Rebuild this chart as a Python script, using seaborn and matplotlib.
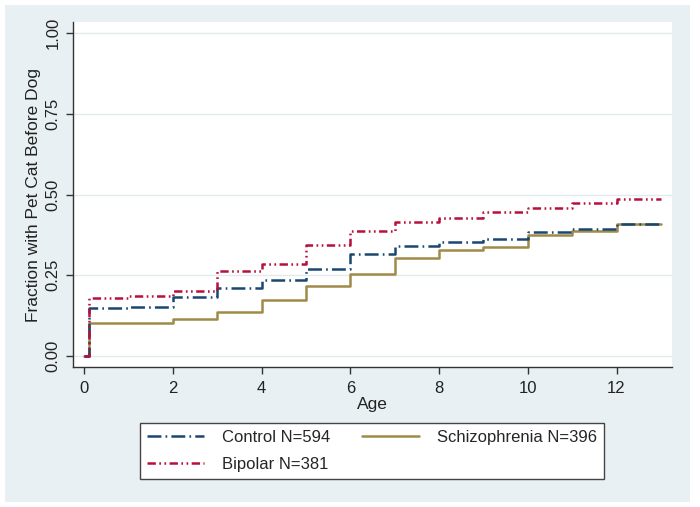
import matplotlib
matplotlib.use("Agg")
import matplotlib.pyplot as plt
import matplotlib.patches as mpatches
import seaborn as sns
import pandas as pd

# ---- data ----
ages = [0, 0.1, 1, 2, 3, 4, 5, 6, 7, 8, 9, 10, 11, 12, 13]
control = [0, 0.150, 0.153, 0.184, 0.210, 0.236, 0.268, 0.315, 0.341, 0.354, 0.362, 0.383, 0.392, 0.410, 0.410]
schizophrenia = [0, 0.101, 0.101, 0.114, 0.137, 0.173, 0.218, 0.253, 0.304, 0.327, 0.337, 0.375, 0.388, 0.410, 0.410]
bipolar = [0, 0.179, 0.186, 0.202, 0.264, 0.284, 0.344, 0.387, 0.416, 0.428, 0.445, 0.459, 0.475, 0.486, 0.486]
labels = ["Control N=594", "Schizophrenia N=396", "Bipolar N=381"]
yticks = [0.00, 0.25, 0.50, 0.75, 1.00]
xticks = [0, 2, 4, 6, 8, 10, 12]

sns.set_theme(style="white")
plt.rcParams["font.family"] = ["Liberation Sans", "DejaVu Sans"]
plt.rcParams["lines.scale_dashes"] = False

df = pd.concat([
    pd.DataFrame({"Age": ages, "Fraction": control, "Group": labels[0]}),
    pd.DataFrame({"Age": ages, "Fraction": schizophrenia, "Group": labels[1]}),
    pd.DataFrame({"Age": ages, "Fraction": bipolar, "Group": labels[2]}),
])

colors = {labels[0]: "#1a476f", labels[1]: "#a08a47", labels[2]: "#b8103a"}
styles = {labels[0]: (0, (10, 3, 1.2, 3)),
          labels[1]: "-",
          labels[2]: (0, (6, 2.5, 1.2, 2.5, 1.2, 2.5))}

fig = plt.figure(figsize=(7.0, 5.07), dpi=100)
fig.patch.set_facecolor("white")
bg = mpatches.Rectangle((5 / 700, 1 - 502 / 507), 685 / 700, 497 / 507,
                        transform=fig.transFigure, facecolor="#e9f0f3",
                        edgecolor="none", zorder=-10)
fig.patches.append(bg)
ax = fig.add_axes([73 / 700, 1 - 367 / 507, 599 / 700, 345 / 507])
ax.set_zorder(1)
ax.set_facecolor("white")

handles = {}
for g in [labels[1], labels[0], labels[2]]:
    sub = df[df["Group"] == g]
    sns.lineplot(data=sub, x="Age", y="Fraction", ax=ax, drawstyle="steps-post",
                 estimator=None, color=colors[g], linestyle=styles[g], lw=1.8,
                 legend=False)
    handles[g] = ax.lines[-1]

ax.set_xlim(-0.25, 13.25)
ax.set_ylim(-0.034, 1.034)
ax.set_xticks(xticks)
ax.set_yticks(yticks)
ax.set_yticklabels([f"{v:.2f}" for v in yticks], rotation=90, va="center")
ax.tick_params(axis="both", which="major", length=5, width=1, color="#333333",
               labelsize=12, labelcolor="#222222", direction="out",
               bottom=True, left=True)
ax.tick_params(axis="x", pad=5)
ax.tick_params(axis="y", pad=4)
ax.yaxis.grid(True, color="#e3eaee", lw=1)
ax.xaxis.grid(False)
ax.set_axisbelow(True)
for s in ["top", "right"]:
    ax.spines[s].set_visible(False)
for s in ["left", "bottom"]:
    ax.spines[s].set_color("#333333")
    ax.spines[s].set_linewidth(1)

ax.set_xlabel("Age", fontsize=12.5, color="#222222", labelpad=1)
ax.set_ylabel("Fraction with Pet Cat Before Dog", fontsize=12.5, color="#222222", labelpad=3)

leg = fig.legend([handles[labels[0]], handles[labels[2]], handles[labels[1]]],
                 [labels[0], labels[2], labels[1]],
                 ncol=2, loc="center", bbox_to_anchor=(372 / 700, 1 - 451 / 507),
                 fontsize=12, frameon=True, fancybox=False, framealpha=1,
                 edgecolor="#444444", handlelength=3.4, handletextpad=1.1,
                 columnspacing=1.9, labelspacing=0.75, borderpad=0.4)
leg.get_frame().set_linewidth(1)
leg.get_frame().set_facecolor("white")
leg.set_zorder(2)

fig.savefig("out.png", dpi=100, facecolor=fig.get_facecolor())
